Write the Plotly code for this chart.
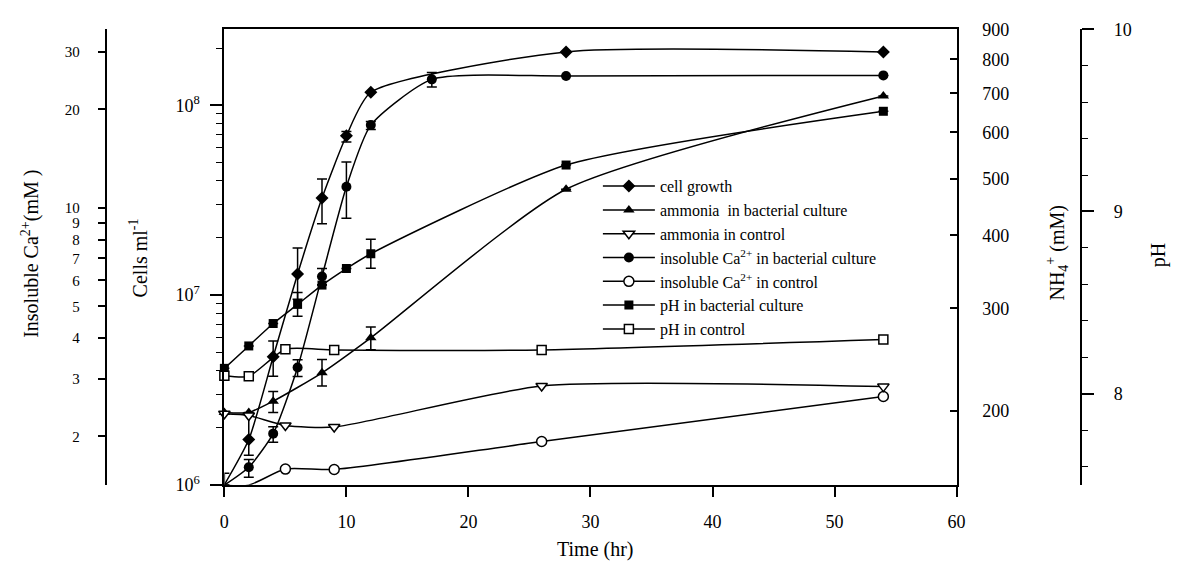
import plotly.graph_objects as go

W, H = 1181, 571
FONT = "Liberation Serif, Times New Roman, serif"

# ---------------- data ----------------
cell_t = [0, 2, 4, 6, 8, 10, 12, 28, 54]
cell_v = [1.0e6, 1.73e6, 4.73e6, 1.29e7, 3.24e7, 6.9e7, 1.17e8, 1.91e8, 1.91e8]
cell_ep = [0.15e6, 0.6e6, 1.0e6, 4.8e6, 8.5e6, 3.6e6, 0, 0, 0]
cell_em = [0, 0.3e6, 1.0e6, 3.4e6, 8.7e6, 5.0e6, 0, 0, 0]

nh_t = [0, 2, 4, 8, 12, 28, 54]
nh_v = [199, 199, 208, 232.6, 267, 479.5, 692.7]
nh_ep = [0, 0, 8, 12.6, 11.7, 0, 0]
nh_em = [0, 0, 9, 11.7, 12.2, 0, 0]

nhc_t = [0, 2, 5, 9, 26, 54]
nhc_v = [197.9, 196.6, 189.0, 187.9, 220.9, 220.3]

ca_t = [0, 2, 4, 6, 8, 10, 12, 17, 28, 54]
ca_v = [1.42, 1.61, 2.04, 3.25, 6.17, 11.6, 17.9, 24.7, 25.3, 25.4]
ca_ep = [0, 0.09, 0.10, 0.18, 0.35, 2.2, 0.45, 1.2, 0, 0]
ca_em = [0, 0.11, 0.12, 0.20, 0.35, 2.3, 0.55, 1.3, 0, 0]

cac_t = [0, 2, 5, 9, 26, 54]
cac_v = [1.42, 1.42, 1.59, 1.585, 1.93, 2.65]

ph_t = [0, 2, 4, 6, 8, 10, 12, 28, 54]
ph_v = [8.139, 8.262, 8.385, 8.490, 8.596, 8.687, 8.768, 9.255, 9.550]
ph_e = [0, 0, 0, 0.065, 0, 0, 0.08, 0, 0]

phc_t = [0, 2, 5, 9, 26, 54]
phc_v = [8.099, 8.095, 8.244, 8.240, 8.240, 8.297]

# tick values / labels
x_ticks = [0, 10, 20, 30, 40, 50, 60]
cell_ticks = [1e6, 1e7, 1e8]
cell_ticktext = ["10<sup>6</sup>", "10<sup>7</sup>", "10<sup>8</sup>"]
cell_minor = [k * 10 ** e for e in (6, 7) for k in range(2, 10)] + [2e8]
ca_ticks = [2, 3, 4, 5, 6, 7, 8, 9, 10, 20, 30]
nh_ticks = [200, 300, 400, 500, 600, 700, 800, 900]
ph_ticks = [8, 9, 10]
ph_minor = [7.6, 7.8, 8.2, 8.4, 8.6, 8.8, 9.2, 9.4, 9.6, 9.8]

# ---------------- figure ----------------
LINE = dict(color="black", width=1.5, shape="spline", smoothing=0.6)


def err(plus, minus):
    return dict(type="data", symmetric=False, array=plus, arrayminus=minus,
                color="black", thickness=1.5, width=5)


fig = go.Figure()
fig.add_trace(go.Scatter(x=cell_t, y=cell_v, yaxis="y", name="cell growth",
                         mode="lines+markers", line=LINE, cliponaxis=False,
                         marker=dict(symbol="diamond", size=10, color="black"),
                         error_y=err(cell_ep, cell_em)))
fig.add_trace(go.Scatter(x=nh_t, y=nh_v, yaxis="y3", name="ammonia  in bacterial culture",
                         mode="lines+markers", line=LINE, cliponaxis=False,
                         marker=dict(symbol="triangle-up", size=10, color="black"),
                         error_y=err(nh_ep, nh_em)))
fig.add_trace(go.Scatter(x=nhc_t, y=nhc_v, yaxis="y3", name="ammonia in control",
                         mode="lines+markers", line=LINE, cliponaxis=False,
                         marker=dict(symbol="triangle-down", size=10, color="white",
                                     line=dict(color="black", width=1.5))))
fig.add_trace(go.Scatter(x=ca_t, y=ca_v, yaxis="y2", name="insoluble Ca<sup>2+</sup> in bacterial culture",
                         mode="lines+markers", line=LINE, cliponaxis=False,
                         marker=dict(symbol="circle", size=10, color="black"),
                         error_y=err(ca_ep, ca_em)))
fig.add_trace(go.Scatter(x=cac_t, y=cac_v, yaxis="y2", name="insoluble Ca<sup>2+</sup> in control",
                         mode="lines+markers", line=LINE, cliponaxis=False,
                         marker=dict(symbol="circle", size=10, color="white",
                                     line=dict(color="black", width=1.5))))
fig.add_trace(go.Scatter(x=ph_t, y=ph_v, yaxis="y4", name="pH in bacterial culture",
                         mode="lines+markers", line=LINE, cliponaxis=False,
                         marker=dict(symbol="square", size=9, color="black"),
                         error_y=err(ph_e, ph_e)))
fig.add_trace(go.Scatter(x=phc_t, y=phc_v, yaxis="y4", name="pH in control",
                         mode="lines+markers", line=LINE, cliponaxis=False,
                         marker=dict(symbol="square", size=9, color="white",
                                     line=dict(color="black", width=1.5))))

AX = dict(showgrid=False, zeroline=False, showline=True, linecolor="black",
          linewidth=2, tickcolor="black", tickwidth=1.5,
          tickfont=dict(family=FONT, size=18, color="black"))

fig.update_layout(
    width=W, height=H,
    margin=dict(l=0, r=0, t=0, b=0),
    paper_bgcolor="white", plot_bgcolor="white",
    font=dict(family=FONT, color="black"),
    showlegend=True,
    legend=dict(x=600 / W, y=1 - 165 / H, xanchor="left", yanchor="top",
                bgcolor="rgba(0,0,0,0)", itemwidth=52, tracegroupgap=0,
                font=dict(family=FONT, size=16, color="black")),
    xaxis=dict(AX, domain=[222 / W, 963 / W], range=[0, 60], tickvals=x_ticks,
               ticks="outside", ticklen=10, mirror=True, anchor="y",
               ticklabelstandoff=10),
    yaxis=dict(AX, domain=[79 / H, 551 / H], type="log", range=[6, 8.40],
               tickvals=cell_ticks, ticktext=cell_ticktext, ticks="outside",
               ticklen=12, ticklabelstandoff=7,
               minor=dict(tickvals=cell_minor, ticks="outside", ticklen=6,
                          tickwidth=1.2, tickcolor="black")),
    yaxis2=dict(AX, overlaying="y", anchor="free", position=102 / W, side="left",
                type="log", range=[0.1534, 1.5457], tickvals=ca_ticks,
                ticks="outside", ticklen=7, ticklabelstandoff=15,
                tickfont=dict(family=FONT, size=15, color="black")),
    yaxis3=dict(AX, overlaying="y", anchor="x", side="right", type="log",
                range=[2.175, 2.9546], tickvals=nh_ticks, ticks="inside",
                ticklen=7, ticklabelstandoff=20),
    yaxis4=dict(AX, overlaying="y", anchor="free", position=1089 / W, side="right",
                range=[7.5, 10], tickvals=ph_ticks, ticks="outside", ticklen=12,
                ticklabelstandoff=16,
                minor=dict(tickvals=ph_minor, ticks="outside", ticklen=6,
                           tickwidth=1.2, tickcolor="black")),
)

TITLE_FONT = dict(family=FONT, size=20, color="black")
titles = [
    ("Insoluble Ca<sup>2+</sup>(mM )", 25, 253, -90),
    ("Cells ml<sup>-1</sup>", 135, 257, -90),
    ("NH<sub>4</sub><sup>+</sup> (mM)", 1065, 252, -90),
    ("pH", 1167, 254, -90),
    ("Time (hr)", 597, 559, 0),
]
for text, px, py, ang in titles:
    fig.add_annotation(text=text, x=px / W, y=1 - py / H, xref="paper", yref="paper",
                       showarrow=False, textangle=ang, xanchor="center",
                       yanchor="middle", font=TITLE_FONT)

fig.write_html("out.html")
